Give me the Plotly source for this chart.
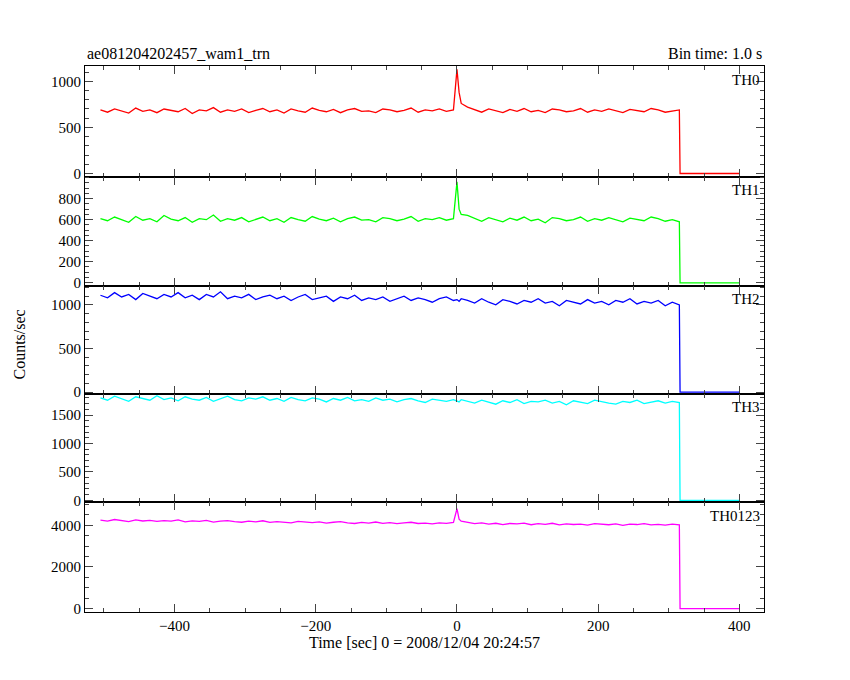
import plotly.graph_objects as go
from plotly.subplots import make_subplots

# time bins (s): before the burst, around the spike, after it, then the data gap
t_pre = list(range(-505, 0, 10))
t_spk = [0, 3, 6]
t_post = list(range(15, 316, 10))
t_gap = [316, 400]
times = t_pre + t_spk + t_post + t_gap

th0 = [690, 665, 700, 680, 655, 710, 675, 690, 660, 700, 685, 670, 705, 650, 690, 680, 715, 665, 690, 675,
       700, 660, 685, 705, 670, 690, 655, 700, 680, 665, 710, 685, 670, 695, 660, 690, 705, 675, 680, 660,
       700, 690, 670, 685, 710, 665, 690, 680, 700, 675, 690,
       1130, 880, 760,
       720, 690, 665, 700, 680, 660, 695, 675, 705, 670, 685, 660, 700, 690, 670, 680, 705, 665, 690, 675,
       700, 680, 660, 695, 685, 670, 705, 690, 665, 680, 690,
       0, 0]
th1 = [610, 590, 625, 600, 575, 630, 595, 610, 580, 640, 605, 590, 620, 575, 610, 600, 645, 585, 610, 595,
       620, 580, 605, 625, 590, 610, 575, 620, 600, 585, 630, 605, 590, 615, 580, 610, 625, 595, 600, 580,
       620, 610, 590, 605, 630, 585, 610, 600, 620, 595, 610,
       960, 700, 650,
       640, 610, 585, 620, 600, 580, 615, 595, 625, 590, 605, 570, 620, 610, 590, 600, 625, 585, 610, 595,
       620, 600, 580, 615, 605, 590, 625, 610, 585, 600, 580,
       0, 0]
th2 = [1110, 1080, 1140, 1090, 1120, 1060, 1130, 1100, 1070, 1120, 1090, 1140, 1080, 1110, 1060, 1120, 1090, 1150, 1070, 1100,
       1080, 1120, 1060, 1090, 1110, 1070, 1100, 1050, 1090, 1120, 1060, 1080, 1100, 1040, 1090, 1070, 1110, 1050, 1080, 1060,
       1090, 1040, 1070, 1100, 1050, 1080, 1060, 1030, 1070, 1090, 1050,
       1060, 1040, 1070,
       1050, 1020, 1070, 1030, 1000, 1060, 1040, 1010, 1050, 1030, 1070, 1020, 1040, 990, 1050, 1030, 1010, 1060, 1020, 1040,
       1000, 1050, 1030, 1070, 1010, 1040, 1020, 1050, 990, 1030, 1000,
       0, 0]
th3 = [1800, 1760, 1830, 1780, 1740, 1820, 1790, 1760, 1840, 1770, 1800, 1750, 1820, 1780, 1760, 1810, 1740, 1790, 1830, 1770,
       1750, 1800, 1780, 1820, 1760, 1790, 1740, 1810, 1770, 1750, 1800, 1780, 1730, 1790, 1760, 1810, 1750, 1770, 1740, 1800,
       1760, 1780, 1730, 1770, 1790, 1750, 1720, 1780, 1760, 1740, 1770,
       1750, 1730, 1770,
       1740, 1710, 1760, 1730, 1690, 1750, 1720, 1770, 1700, 1740, 1730, 1760, 1710, 1740, 1680, 1750, 1720, 1700, 1760, 1730,
       1710, 1690, 1740, 1720, 1760, 1700, 1730, 1750, 1710, 1740, 1720,
       0, 0]
th0123 = [4250, 4200, 4280, 4220, 4180, 4260, 4210, 4240, 4190, 4230, 4200, 4260, 4170, 4220, 4190, 4240, 4160, 4200, 4230, 4180,
          4150, 4200, 4170, 4220, 4140, 4180, 4160, 4120, 4190, 4150, 4130, 4170, 4110, 4150, 4180, 4120, 4090, 4140, 4110, 4160,
          4100, 4130, 4080, 4120, 4150, 4090, 4110, 4070, 4120, 4100, 4140,
          4800, 4300, 4200,
          4150, 4080, 4120, 4060, 4100, 4040, 4090, 4070, 4110, 4030, 4080, 4050, 4100, 4020, 4070, 4040, 4060, 4010, 4080, 4050,
          4030, 4070, 4000, 4060, 4040, 4080, 4020, 4050, 4010, 4060, 4030,
          0, 0]

names = ["TH0", "TH1", "TH2", "TH3", "TH0123"]
series = [th0, th1, th2, th3, th0123]
colors = ["#ff0000", "#00ff00", "#0000ff", "#00ffff", "#ff00ff"]
yticks = [[0, 500, 1000], [0, 200, 400, 600, 800], [0, 500, 1000], [0, 500, 1000, 1500], [0, 2000, 4000]]
yranges = [[-33, 1163], [-29, 1010], [-23, 1218], [-34, 1868], [-145, 5108]]
yminor = [100, 50, 100, 100, 500]
edges = [0.9135, 0.7499, 0.5878, 0.4272, 0.2666, 0.1045]
domains = [[edges[i + 1], edges[i]] for i in range(5)]
XDOM = [0.0905, 0.8895]

FONT = "Liberation Serif"
fig = make_subplots(rows=5, cols=1, shared_xaxes=True, vertical_spacing=0)

for i, (n, s, c) in enumerate(zip(names, series, colors)):
    r = i + 1
    fig.add_trace(go.Scatter(x=times, y=s, mode="lines", line=dict(color=c, width=1.3),
                             name=n, showlegend=False), row=r, col=1)
    fig.update_yaxes(range=yranges[i], tickvals=yticks[i], domain=domains[i],
                     ticks="inside", ticklen=8, mirror="ticks", showline=True, linecolor="black",
                     showgrid=False, zeroline=False, tickfont=dict(family=FONT, size=15, color="black"),
                     minor=dict(ticks="inside", ticklen=4, dtick=yminor[i], tick0=0), row=r, col=1)
    fig.update_xaxes(range=[-527, 435], dtick=200, ticks="inside", ticklen=8, mirror="ticks",
                     showline=True, linecolor="black", showgrid=False, zeroline=False,
                     showticklabels=(r == 5), tickfont=dict(family=FONT, size=15, color="black"),
                     minor=dict(ticks="inside", ticklen=4, dtick=50), domain=XDOM, row=r, col=1)
    fig.add_annotation(text=n, xref="paper", yref="paper", x=XDOM[1] - 0.002, y=domains[i][1] - 0.005,
                       xanchor="right", yanchor="top", showarrow=False,
                       font=dict(family=FONT, size=15, color="black"))

fig.update_xaxes(title=dict(text="Time [sec] 0 = 2008/12/04 20:24:57", standoff=2,
                            font=dict(family=FONT, size=16, color="black")), row=5, col=1)
fig.add_annotation(text="Counts/sec", xref="paper", yref="paper", x=0.0, y=0.5, textangle=-90,
                   xanchor="left", showarrow=False, font=dict(family=FONT, size=16, color="black"))
fig.add_annotation(text="ae081204202457_wam1_trn", xref="paper", yref="paper", x=XDOM[0], y=edges[0] + 0.003,
                   xanchor="left", yanchor="bottom", showarrow=False,
                   font=dict(family=FONT, size=16, color="black"))
fig.add_annotation(text="Bin time: 1.0 s", xref="paper", yref="paper", x=XDOM[1], y=edges[0] + 0.003,
                   xanchor="right", yanchor="bottom", showarrow=False,
                   font=dict(family=FONT, size=16, color="black"))

fig.update_layout(width=850, height=680, paper_bgcolor="white", plot_bgcolor="white",
                  margin=dict(l=0, r=0, t=0, b=0))
fig.write_html("out.html")
